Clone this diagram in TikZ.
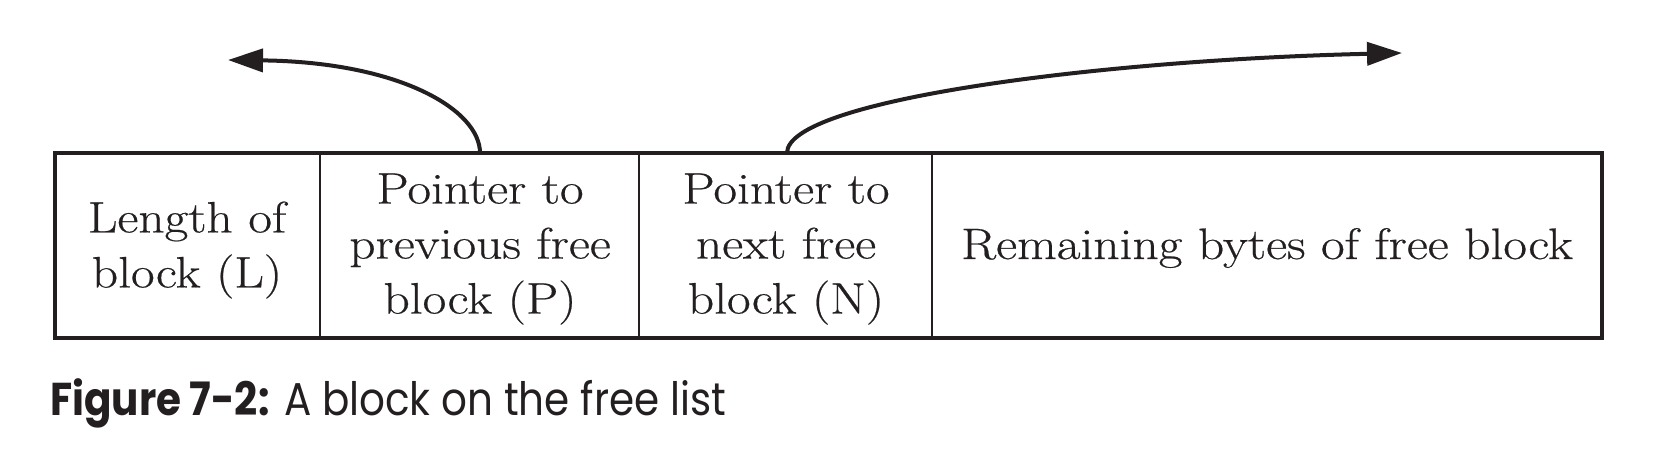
\documentclass[tikz,border=0pt]{standalone}
\usepackage{fontspec}
\setmainfont{Latin Modern Roman}[FakeStretch=1.17,FakeBold=0.5]
\newfontfamily\capfont{Poppins}[FakeStretch=0.88]
\usetikzlibrary{arrows.meta}
\definecolor{ink}{RGB}{35,31,32}
\begin{document}
\begin{tikzpicture}[x=1pt,y=-1pt,
  cell/.style={font=\fontsize{44}{55}\selectfont, align=center, text=ink, inner sep=0pt},
  ptr/.style={line width=4pt, draw=ink, -{Triangle[length=35pt,width=23pt]}},
  outer/.style={line width=4pt, draw=ink},
  divider/.style={line width=2pt, draw=ink}]
\useasboundingbox (0,0) rectangle (1660,460);
\draw[outer] (55,153) rectangle (1602,338);
\coordinate (d1t) at (320,153); \coordinate (d1b) at (320,338);
\coordinate (d2t) at (639,153); \coordinate (d2b) at (639,338);
\coordinate (d3t) at (932,153); \coordinate (d3b) at (932,338);
\draw[divider] (d1t) -- (d1b);
\draw[divider] (d2t) -- (d2b);
\draw[divider] (d3t) -- (d3b);
\node[cell] (L) at (187,250) {Length of\\block (L)};
\node[cell] (P) at (480,249) {Pointer to\\previous free\\block (P)};
\node[cell] (N) at (786,249) {Pointer to\\next free\\block (N)};
\node[cell, anchor=base] (R) at (1267,259) {Remaining bytes of free block};
\coordinate (ps) at (480,153);
\coordinate (pe) at (228,60);
\coordinate (ns) at (787,153);
\coordinate (ne) at (1402,53);
\draw[ptr] (ps) .. controls (480,110) and (400,62) .. (pe);
\draw[ptr] (ns) .. controls (787,100) and (1100,60) .. (ne);
\node[anchor=base west, inner sep=0pt, text=ink, font=\capfont\fontsize{46}{50}\selectfont] (cap) at (50,415) {\textbf{Figure 7-2:} A block on the free list};
\end{tikzpicture}
\end{document}
